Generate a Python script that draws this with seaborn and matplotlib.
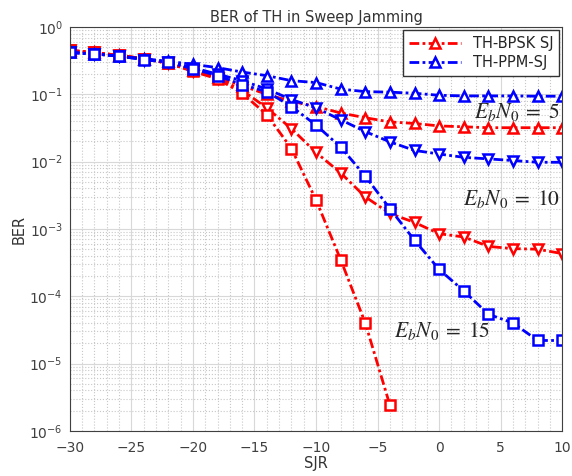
import numpy as np
import pandas as pd
import seaborn as sns
import matplotlib.pyplot as plt
from matplotlib.lines import Line2D

# SJR axis (dB)
sjr = list(range(-30, 11, 2))

# BER curves
bpsk_5 = [0.45, 0.42, 0.38, 0.34, 0.29, 0.23, 0.18, 0.135, 0.10, 0.079, 0.066,
          0.053, 0.045, 0.039, 0.037, 0.034, 0.033, 0.032, 0.032, 0.032, 0.032]
bpsk_10 = [0.45, 0.42, 0.38, 0.34, 0.29, 0.225, 0.175, 0.115, 0.063, 0.031, 0.0137,
           0.0068, 0.0030, 0.0017, 0.00125, 0.00085, 0.00076, 0.00055, 0.00051, 0.0005, 0.00043]
bpsk_15 = [0.45, 0.42, 0.38, 0.34, 0.29, 0.22, 0.17, 0.104, 0.05, 0.0157, 0.0027,
           0.00035, 0.00004, 0.0000024]
ppm_5 = [0.42, 0.40, 0.37, 0.34, 0.31, 0.28, 0.25, 0.215, 0.19, 0.16, 0.15,
         0.12, 0.11, 0.108, 0.104, 0.097, 0.095, 0.095, 0.095, 0.094, 0.094]
ppm_10 = [0.42, 0.40, 0.37, 0.33, 0.30, 0.25, 0.20, 0.16, 0.12, 0.084, 0.063,
          0.042, 0.028, 0.0197, 0.0147, 0.013, 0.0116, 0.011, 0.0104, 0.0098, 0.0098]
ppm_15 = [0.42, 0.40, 0.37, 0.33, 0.30, 0.24, 0.19, 0.14, 0.11, 0.066, 0.035,
          0.0165, 0.0061, 0.0020, 0.00068, 0.00025, 0.00012, 0.000054, 0.00004, 0.000022, 0.000022]

sns.set_style("whitegrid")
plt.rcParams['font.family'] = ['DejaVu Sans']
plt.rcParams['mathtext.fontset'] = 'stix'

fig = plt.figure(figsize=(5.72, 4.76), dpi=100)
ax = fig.add_axes([0.122, 0.095, 0.861, 0.848])

dash = (3.5, 1.2, 1, 1.2)
series = [
    (bpsk_5, 'red', '^'), (bpsk_10, 'red', 'v'), (bpsk_15, 'red', 's'),
    (ppm_5, 'blue', '^'), (ppm_10, 'blue', 'v'), (ppm_15, 'blue', 's'),
]
for vals, col, mk in series:
    sns.lineplot(x=sjr[:len(vals)], y=vals, ax=ax, color=col, marker=mk,
                 linewidth=2.0, markersize=6.5, markeredgewidth=1.8,
                 markerfacecolor='white', markeredgecolor=col, legend=False)
for ln in ax.lines:
    ln.set_dashes(dash)

ax.set_yscale('log')
ax.set_xlim(-30, 10)
ax.set_ylim(1e-6, 1)
ax.set_xticks(range(-30, 11, 5))
ax.grid(True, which='major', color='#d8d8d8', linestyle='-', linewidth=0.8)
ax.minorticks_on()
ax.xaxis.set_minor_locator(plt.MultipleLocator(1))
ax.grid(True, which='minor', color='#c8c8c8', linestyle=':', linewidth=0.8)
for s in ax.spines.values():
    s.set_color('#404040')
    s.set_linewidth(0.8)
ax.tick_params(colors='#404040', labelsize=10, which='both', direction='in')
ax.tick_params(axis='x', pad=7)
ax.tick_params(axis='y', pad=5)

ax.set_title('BER of TH in Sweep Jamming', fontsize=10.5, color='#333333', pad=4)
ax.set_xlabel('SJR', fontsize=10.5, color='#333333', labelpad=1)
ax.set_ylabel('BER', fontsize=10.5, color='#333333', labelpad=2)

ax.text(9.8, 0.055, r'$E_bN_0\;=\;5$', fontsize=15.5, ha='right', va='center')
ax.text(9.8, 0.0028, r'$E_bN_0\;=\;10$', fontsize=15.5, ha='right', va='center')
ax.text(-3.7, 0.00003, r'$E_bN_0\;=\;15$', fontsize=15.5, ha='left', va='center')

handles = [
    Line2D([], [], color='red', dashes=dash, linewidth=2.0, marker='^', markersize=6.5,
           markeredgewidth=1.8, markerfacecolor='white'),
    Line2D([], [], color='blue', dashes=dash, linewidth=2.0, marker='^', markersize=6.5,
           markeredgewidth=1.8, markerfacecolor='white'),
]
leg = ax.legend(handles, ['TH-BPSK SJ', 'TH-PPM-SJ'], loc='upper right', fontsize=10.5,
                frameon=True, fancybox=False, borderaxespad=0.2, handlelength=3.6,
                labelspacing=0.3)
leg.get_frame().set_edgecolor('#333333')
leg.get_frame().set_alpha(1)

fig.savefig('out.png', dpi=100)
